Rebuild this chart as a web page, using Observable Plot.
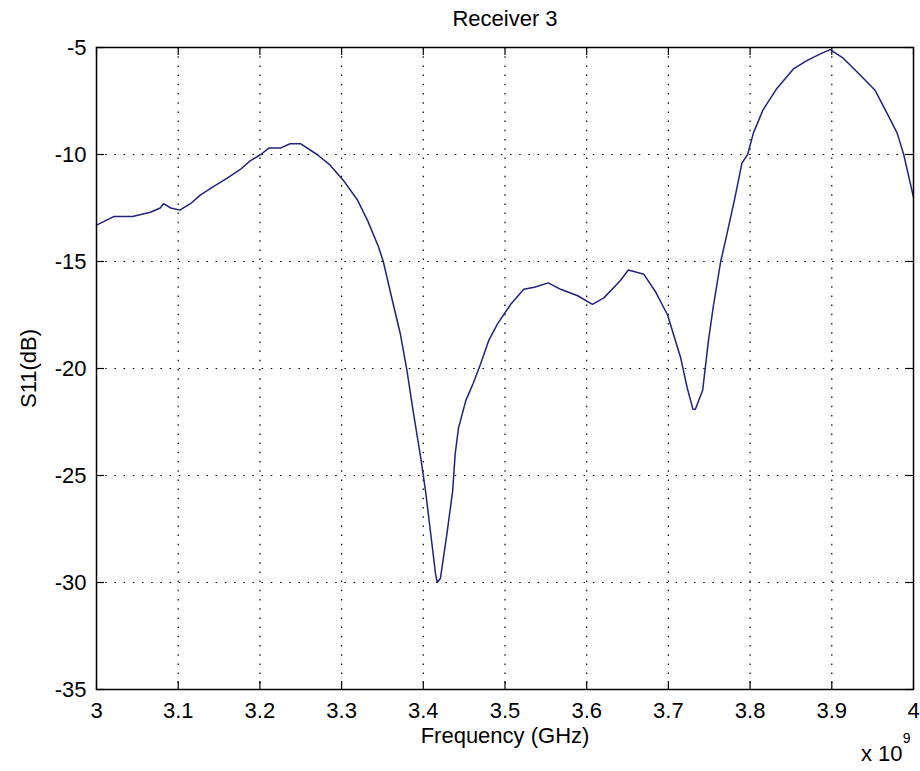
<!DOCTYPE html>
<html>
<head>
<meta charset="utf-8">
<script src="https://cdn.jsdelivr.net/npm/d3@7"></script>
<script src="https://cdn.jsdelivr.net/npm/@observablehq/plot@0.6"></script>
<style>
  html, body { margin: 0; padding: 0; background: #fff; }
</style>
</head>
<body>
<div id="chart"></div>
<script>
const title = "Receiver 3";
const xLabel = "Frequency (GHz)";
const yLabel = "S11(dB)";
const xScaleNote = "x 10";
const xScaleExp = "9";
const xTicks = [3, 3.1, 3.2, 3.3, 3.4, 3.5, 3.6, 3.7, 3.8, 3.9, 4];
const yTicks = [-35, -30, -25, -20, -15, -10, -5];

const freq = [3.000, 3.021, 3.044, 3.066, 3.078, 3.082, 3.091, 3.102, 3.115, 3.127,
  3.143, 3.160, 3.176, 3.188, 3.201, 3.211, 3.225, 3.237, 3.250, 3.270,
  3.286, 3.302, 3.319, 3.332, 3.345, 3.351, 3.362, 3.372, 3.380, 3.388,
  3.397, 3.403, 3.409, 3.415, 3.417, 3.421, 3.429, 3.436, 3.439, 3.443,
  3.452, 3.461, 3.470, 3.480, 3.491, 3.507, 3.523, 3.536, 3.553, 3.568,
  3.589, 3.607, 3.621, 3.641, 3.651, 3.670, 3.684, 3.699, 3.715, 3.723,
  3.730, 3.733, 3.742, 3.749, 3.755, 3.764, 3.770, 3.781, 3.790, 3.797,
  3.804, 3.816, 3.833, 3.853, 3.870, 3.886, 3.898, 3.914, 3.935, 3.953,
  3.968, 3.980, 3.988, 4.000];
const s11 = [-13.3, -12.9, -12.9, -12.7, -12.5, -12.3, -12.5, -12.6, -12.3, -11.9,
  -11.5, -11.1, -10.7, -10.3, -10.0, -9.7, -9.7, -9.5, -9.5, -10.0,
  -10.5, -11.2, -12.1, -13.1, -14.3, -15.0, -16.8, -18.4, -20.1, -22.1,
  -24.2, -25.8, -27.7, -29.6, -30.0, -29.8, -27.7, -25.7, -24.0, -22.8,
  -21.5, -20.7, -19.8, -18.7, -17.9, -17.0, -16.3, -16.2, -16.0, -16.3,
  -16.6, -17.0, -16.7, -15.9, -15.4, -15.6, -16.4, -17.5, -19.5, -20.9,
  -21.9, -21.9, -21.0, -18.7, -17.1, -15.0, -14.0, -12.1, -10.4, -10.0,
  -9.0, -7.9, -6.9, -6.0, -5.6, -5.3, -5.1, -5.5, -6.3, -7.0,
  -8.1, -9.0, -10.0, -12.0];

const data = freq.map((f, i) => ({f, v: s11[i]}));

const W = 920, H = 771;
const mL = 96, mR = 7, mT = 47, mB = 82;
const plotW = W - mL - mR, plotH = H - mT - mB;
const tickLen = 8;
const dots = "1.5,7.7";
const fs = 22;

const chart = Plot.plot({
  width: W,
  height: H,
  marginLeft: mL,
  marginRight: mR,
  marginTop: mT,
  marginBottom: mB,
  style: {fontFamily: "Liberation Sans, Arial, sans-serif", fontSize: fs + "px", background: "#fff", color: "#000"},
  x: {domain: [3, 4], ticks: xTicks, label: null},
  y: {domain: [-35, -5], ticks: yTicks, label: null},
  marks: [
    Plot.gridX(xTicks.slice(1, -1), {stroke: "#000", strokeOpacity: 1, strokeDasharray: dots, strokeWidth: 1.2}),
    Plot.gridY(yTicks.slice(1, -1), {stroke: "#000", strokeOpacity: 1, strokeDasharray: dots, strokeWidth: 1.2}),
    Plot.tickX(xTicks, {x: d => d, stroke: "#000", strokeWidth: 1.2, insetTop: plotH - tickLen}),
    Plot.tickX(xTicks, {x: d => d, stroke: "#000", strokeWidth: 1.2, insetBottom: plotH - tickLen}),
    Plot.tickY(yTicks, {y: d => d, stroke: "#000", strokeWidth: 1.2, insetRight: plotW - tickLen}),
    Plot.tickY(yTicks, {y: d => d, stroke: "#000", strokeWidth: 1.2, insetLeft: plotW - tickLen}),
    Plot.line(data, {x: "f", y: "v", stroke: "#22227a", strokeWidth: 1.5}),
    Plot.frame({stroke: "#000", strokeWidth: 1.5}),
    Plot.axisX(xTicks, {tickSize: 0, tickPadding: 13, tickFormat: d => String(d), fill: "#000", fontSize: fs, label: null}),
    Plot.axisY(yTicks, {tickSize: 0, tickPadding: 10, tickFormat: d => String(d), fill: "#000", fontSize: fs, label: null}),
    Plot.text([title], {frameAnchor: "top", lineAnchor: "middle", textAnchor: "middle", dy: -29, fill: "#000", fontSize: fs}),
    Plot.text([xLabel], {frameAnchor: "bottom", lineAnchor: "middle", textAnchor: "middle", dy: 46, fill: "#000", fontSize: fs}),
    Plot.text([yLabel], {frameAnchor: "left", lineAnchor: "middle", textAnchor: "middle", dx: -68, rotate: -90, fill: "#000", fontSize: fs}),
    Plot.text([xScaleNote], {frameAnchor: "bottom-right", lineAnchor: "middle", textAnchor: "end", dx: -11, dy: 64, fill: "#000", fontSize: fs}),
    Plot.text([xScaleExp], {frameAnchor: "bottom-right", lineAnchor: "middle", textAnchor: "end", dx: -3, dy: 49, fill: "#000", fontSize: 14})
  ]
});
document.getElementById("chart").appendChild(chart);
</script>
</body>
</html>
